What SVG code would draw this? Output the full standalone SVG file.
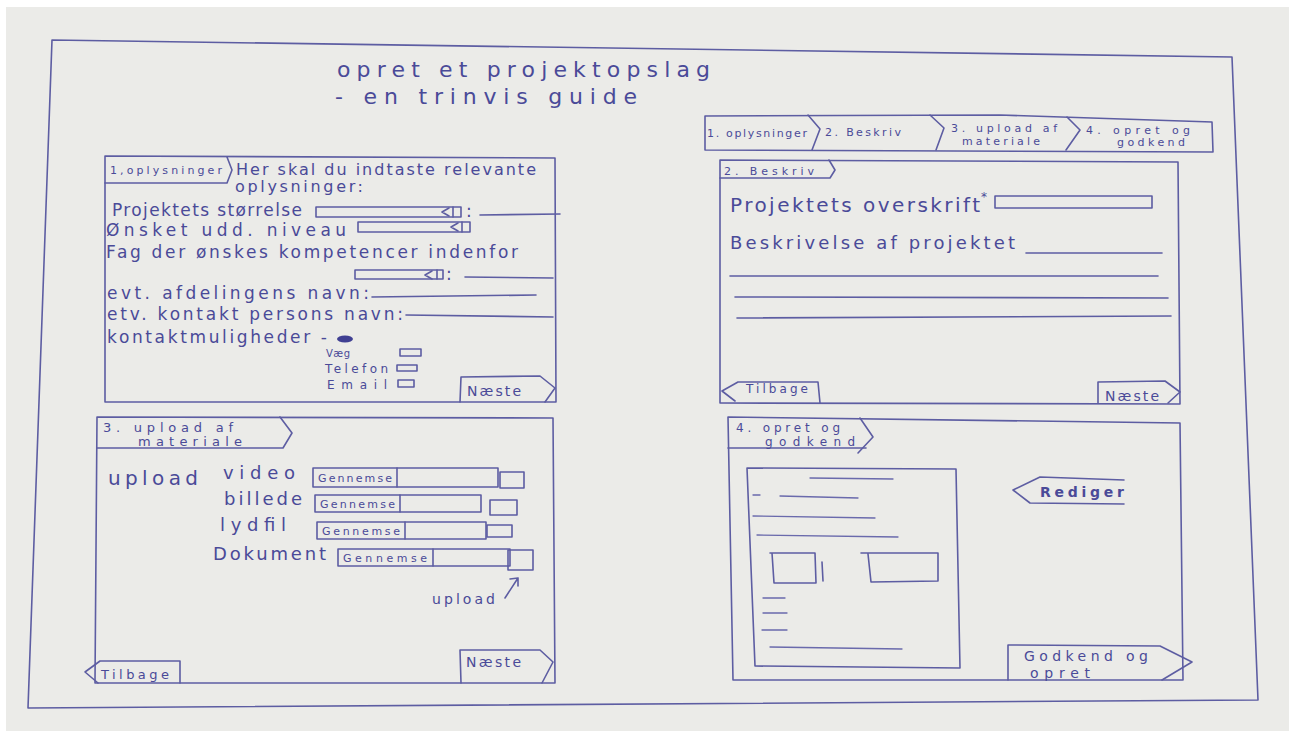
<svg xmlns="http://www.w3.org/2000/svg" width="1289" height="731" viewBox="0 0 1289 731">
<defs>
<style>
.ln{fill:none;stroke:#5d5da2;stroke-width:1.6;stroke-linecap:round;stroke-linejoin:round}
.lt{fill:none;stroke:#6a6aac;stroke-width:1.3;stroke-linecap:round;stroke-linejoin:round}
.t{font-family:"DejaVu Sans","Liberation Sans",sans-serif;fill:#4a4a98}
.s10{font-size:10px}.s11{font-size:11px}.s12{font-size:12px}.s13{font-size:13px}.s14{font-size:14px}.s16{font-size:16px}.s17{font-size:17px}.s18{font-size:18px}.s20{font-size:20px}.s22{font-size:22px}
</style>
</defs>
<rect x="0" y="0" width="1289" height="731" fill="#ffffff"/>
<rect x="6" y="7" width="1283" height="724" fill="#ebebe8"/>
<g id="outer-frame">
<polygon class="ln" points="52,40 1232,57 1258,700 28,708"/>
</g>
<g id="title">
<text class="t s22" x="337" y="77" textLength="373" lengthAdjust="spacing">opret et projektopslag</text>
<text class="t s22" x="335" y="104" textLength="302" lengthAdjust="spacing">- en trinvis guide</text>
</g>
<g id="steps">
<polygon class="ln" points="705,116 1000,115 1212,122 1213,152 705,150"/>
<polyline class="ln" points="808,115 820,129 812,150"/>
<polyline class="ln" points="930,115 944,128 936,150"/>
<polyline class="ln" points="1067,117 1080,130 1066,150"/>
<text class="t s11" x="707" y="137" textLength="100" lengthAdjust="spacing">1. oplysninger</text>
<text class="t s11" x="825" y="136" textLength="76" lengthAdjust="spacing">2. Beskriv</text>
<text class="t s11" x="951" y="132" textLength="106" lengthAdjust="spacing">3. upload af</text>
<text class="t s11" x="962" y="145" textLength="78" lengthAdjust="spacing">materiale</text>
<text class="t s11" x="1086" y="134" textLength="104" lengthAdjust="spacing">4. opret og</text>
<text class="t s11" x="1117" y="146" textLength="68" lengthAdjust="spacing">godkend</text>
</g>
<g id="panel1">
<polygon class="ln" points="105,156 555,158 556,402 105,402"/>
<polyline class="ln" points="105,183 227,183 232,170 227,157"/>
<text class="t s11" x="110" y="174" textLength="112" lengthAdjust="spacing">1,oplysninger</text>
<text class="t s16" x="236" y="175" textLength="300" lengthAdjust="spacing">Her skal du indtaste relevante</text>
<text class="t s16" x="235" y="192" textLength="128" lengthAdjust="spacing">oplysninger:</text>
<text class="t s17" x="112" y="216" textLength="190" lengthAdjust="spacing">Projektets størrelse</text>
<rect class="ln" x="316" y="207" width="145" height="10"/>
<path class="ln" d="M449,208 L442,212 L449,216 M453,207 V217"/>
<text class="t s17" x="466" y="217">:</text>
<line class="ln" x1="480" y1="215" x2="560" y2="214"/>
<text class="t s17" x="106" y="236" textLength="240" lengthAdjust="spacing">Ønsket udd. niveau</text>
<rect class="ln" x="358" y="222" width="112" height="10"/>
<path class="ln" d="M458,223 L451,227 L458,231 M462,222 V232"/>
<text class="t s17" x="106" y="258" textLength="412" lengthAdjust="spacing">Fag der ønskes kompetencer indenfor</text>
<rect class="ln" x="355" y="270" width="88" height="9"/>
<path class="ln" d="M432,271 L425,275 L432,279 M437,270 V279"/>
<text class="t s17" x="446" y="280">:</text>
<line class="ln" x1="465" y1="277" x2="553" y2="278"/>
<text class="t s17" x="107" y="299" textLength="262" lengthAdjust="spacing">evt. afdelingens navn:</text>
<line class="ln" x1="372" y1="297" x2="536" y2="295"/>
<text class="t s17" x="107" y="320" textLength="296" lengthAdjust="spacing">etv. kontakt persons navn:</text>
<line class="ln" x1="406" y1="315" x2="553" y2="317"/>
<text class="t s17" x="107" y="343" textLength="220" lengthAdjust="spacing">kontaktmuligheder -</text>
<ellipse cx="345" cy="339" rx="8" ry="3.5" fill="#3f3f92"/>
<text class="t s10" x="326" y="357" textLength="24" lengthAdjust="spacing">Væg</text>
<rect class="ln" x="400" y="349" width="21" height="7"/>
<text class="t s12" x="325" y="373" textLength="63" lengthAdjust="spacing">Telefon</text>
<rect class="ln" x="397" y="365" width="20" height="6"/>
<text class="t s12" x="327" y="389" textLength="60" lengthAdjust="spacing">Email</text>
<rect class="ln" x="398" y="380" width="16" height="7"/>
<polyline class="ln" points="460,402 461,377 540,376 555,388 545,402"/>
<text class="t s14" x="467" y="396" textLength="54" lengthAdjust="spacing">Næste</text>
</g>
<g id="panel2">
<polygon class="ln" points="720,160 1178,162 1180,404 720,403"/>
<polyline class="ln" points="720,178 830,178 835,170 829,160"/>
<text class="t s11" x="724" y="175" textLength="90" lengthAdjust="spacing">2. Beskriv</text>
<text class="t s20" x="730" y="212" textLength="250" lengthAdjust="spacing">Projektets overskrift</text>
<text class="t s12" x="981" y="201">*</text>
<rect class="ln" x="995" y="196" width="157" height="12"/>
<text class="t s18" x="730" y="249" textLength="285" lengthAdjust="spacing">Beskrivelse af projektet</text>
<line class="ln" x1="1026" y1="253" x2="1162" y2="253"/>
<line class="ln" x1="730" y1="276" x2="1158" y2="276"/>
<line class="ln" x1="735" y1="297" x2="1168" y2="298"/>
<line class="ln" x1="737" y1="318" x2="1171" y2="316"/>
<polyline class="ln" points="735,401 722,391 738,382 818,382 820,403"/>
<text class="t s12" x="746" y="393" textLength="62" lengthAdjust="spacing">Tilbage</text>
<polyline class="ln" points="1098,403 1098,382 1165,381 1180,392 1168,403"/>
<text class="t s14" x="1105" y="401" textLength="54" lengthAdjust="spacing">Næste</text>
</g>
<g id="panel3">
<polygon class="ln" points="97,417 553,418 555,683 95,683"/>
<polyline class="ln" points="97,448 283,448 292,433 280,417"/>
<text class="t s13" x="103" y="432" textLength="130" lengthAdjust="spacing">3. upload af</text>
<text class="t s13" x="138" y="446" textLength="104" lengthAdjust="spacing">materiale</text>
<text class="t s20" x="108" y="485" textLength="90" lengthAdjust="spacing">upload</text>
<text class="t s18" x="223" y="479" textLength="72" lengthAdjust="spacing">video</text>
<rect class="ln" x="313" y="468" width="185" height="19"/>
<line class="ln" x1="397" y1="468" x2="397" y2="487"/>
<text class="t s11" x="318" y="482" textLength="74" lengthAdjust="spacing">Gennemse</text>
<rect class="ln" x="500" y="472" width="24" height="16"/>
<text class="t s18" x="224" y="505" textLength="78" lengthAdjust="spacing">billede</text>
<rect class="ln" x="315" y="495" width="166" height="17"/>
<line class="ln" x1="400" y1="495" x2="400" y2="512"/>
<text class="t s11" x="320" y="508" textLength="75" lengthAdjust="spacing">Gennemse</text>
<rect class="ln" x="490" y="500" width="27" height="15"/>
<text class="t s18" x="220" y="531" textLength="66" lengthAdjust="spacing">lydfil</text>
<rect class="ln" x="317" y="522" width="169" height="17"/>
<line class="ln" x1="405" y1="522" x2="405" y2="539"/>
<text class="t s11" x="322" y="535" textLength="78" lengthAdjust="spacing">Gennemse</text>
<rect class="ln" x="487" y="525" width="25" height="12"/>
<text class="t s18" x="213" y="560" textLength="113" lengthAdjust="spacing">Dokument</text>
<rect class="ln" x="338" y="549" width="172" height="17"/>
<line class="ln" x1="433" y1="549" x2="433" y2="566"/>
<text class="t s11" x="343" y="562" textLength="84" lengthAdjust="spacing">Gennemse</text>
<rect class="ln" x="508" y="550" width="25" height="20"/>
<path class="ln" d="M505,598 L518,578 M510,579 L518,578 L518,586"/>
<text class="t s14" x="432" y="604" textLength="63" lengthAdjust="spacing">upload</text>
<polyline class="ln" points="98,683 85,672 100,661 180,661 180,683"/>
<text class="t s13" x="101" y="679" textLength="68" lengthAdjust="spacing">Tilbage</text>
<polyline class="ln" points="461,683 460,650 540,650 553,662 542,683"/>
<text class="t s14" x="466" y="667" textLength="55" lengthAdjust="spacing">Næste</text>
</g>
<g id="panel4">
<polygon class="ln" points="728,417 1180,423 1183,680 733,680"/>
<polyline class="ln" points="728,448 866,448"/>
<polyline class="ln" points="860,418 873,437 858,453"/>
<text class="t s12" x="736" y="432" textLength="104" lengthAdjust="spacing">4. opret og</text>
<text class="t s12" x="765" y="446" textLength="90" lengthAdjust="spacing">godkend</text>
<polygon class="ln" points="747,468 956,469 960,668 755,666"/>
<line class="lt" x1="810" y1="478" x2="893" y2="479"/>
<line class="lt" x1="753" y1="495" x2="760" y2="495"/>
<line class="lt" x1="780" y1="496" x2="858" y2="498"/>
<line class="lt" x1="753" y1="516" x2="875" y2="518"/>
<line class="lt" x1="757" y1="535" x2="898" y2="537"/>
<polyline class="ln" points="770,553 815,553 816,583 774,583 772,553"/>
<line class="ln" x1="822" y1="562" x2="823" y2="581"/>
<polyline class="ln" points="861,553 938,553 938,581 871,582 868,554"/>
<line class="lt" x1="763" y1="598" x2="785" y2="598"/>
<line class="lt" x1="763" y1="613" x2="787" y2="613"/>
<line class="lt" x1="762" y1="630" x2="787" y2="630"/>
<line class="lt" x1="770" y1="647" x2="902" y2="649"/>
<polyline class="ln" points="1124,480 1040,477 1013,490 1030,503 1124,504"/>
<text class="t s14" x="1040" y="497" textLength="84" lengthAdjust="spacing" font-weight="bold">Rediger</text>
<polyline class="ln" points="1008,680 1008,645 1160,646 1192,662 1162,680"/>
<text class="t s14" x="1024" y="661" textLength="124" lengthAdjust="spacing">Godkend og</text>
<text class="t s14" x="1030" y="678" textLength="60" lengthAdjust="spacing">opret</text>
</g>
</svg>
